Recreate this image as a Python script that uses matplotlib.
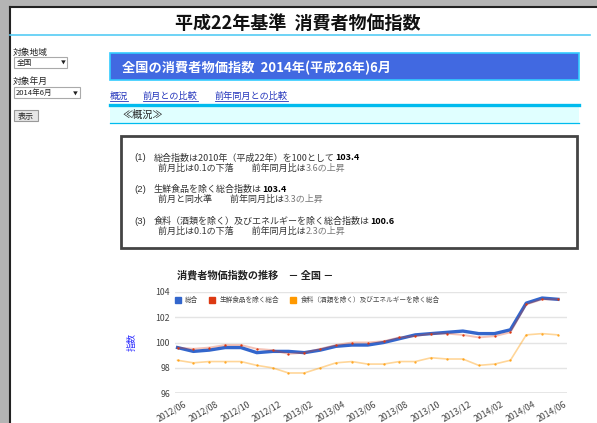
import matplotlib
matplotlib.use('Agg')
import matplotlib.pyplot as plt
import matplotlib.transforms as mtransforms
from matplotlib.patches import Rectangle
from matplotlib.lines import Line2D

plt.rcParams['font.family'] = ['Noto Sans CJK JP', 'DejaVu Sans']

months = ['2012/06', '2012/07', '2012/08', '2012/09', '2012/10', '2012/11', '2012/12',
          '2013/01', '2013/02', '2013/03', '2013/04', '2013/05', '2013/06', '2013/07',
          '2013/08', '2013/09', '2013/10', '2013/11', '2013/12', '2014/01', '2014/02',
          '2014/03', '2014/04', '2014/05', '2014/06']
sougou = [99.6, 99.3, 99.4, 99.6, 99.6, 99.2, 99.3, 99.3, 99.2, 99.4, 99.7, 99.8, 99.8,
          100.0, 100.3, 100.6, 100.7, 100.8, 100.9, 100.7, 100.7, 101.0, 103.1, 103.5, 103.4]
core = [99.6, 99.5, 99.6, 99.8, 99.8, 99.5, 99.4, 99.1, 99.2, 99.5, 99.8, 100.0, 100.0,
        100.1, 100.4, 100.5, 100.7, 100.7, 100.6, 100.4, 100.5, 100.8, 103.0, 103.4, 103.4]
core_core = [98.6, 98.4, 98.5, 98.5, 98.5, 98.2, 98.0, 97.6, 97.6, 98.0, 98.4, 98.5, 98.3,
             98.3, 98.5, 98.5, 98.8, 98.7, 98.7, 98.2, 98.3, 98.6, 100.6, 100.7, 100.6]
series_names = ['総合', '生鮮食品を除く総合', '食料（酒類を除く）及びエネルギーを除く総合']
series_colors = ['#3366cc', '#dc3912', '#ff9900']
y_ticks = [96, 98, 100, 102, 104]

W, H = 597, 423
fig = plt.figure(figsize=(W / 100, H / 100), dpi=100)
fig.patch.set_facecolor('white')

# page drawn in pixel coords
bg = fig.add_axes([0, 0, 1, 1])
bg.set_xlim(0, W)
bg.set_ylim(H, 0)
bg.axis('off')
renderer = fig.canvas.get_renderer()

# window frame
bg.add_patch(Rectangle((0, 0), W, 6.5, color='#b4b4b4', lw=0))
bg.add_patch(Rectangle((0, 0), 9.5, H, color='#b4b4b4', lw=0))
bg.plot([9.5, W], [7, 7], color='#222222', lw=1.5)
bg.plot([10, 10], [7, H], color='#222222', lw=1.5)

bg.text(298, 23.5, '平成22年基準  消費者物価指数', ha='center', va='center',
        fontsize=13, fontweight='bold', color='#111111')
bg.plot([10, 590], [35, 35], color='#55ccf5', lw=1.2)

# sidebar
bg.text(13, 52, '対象地域', fontsize=6.3, va='center', color='#222222')
bg.add_patch(Rectangle((13.5, 57), 53, 11, fc='white', ec='#aaaaaa', lw=0.8))
bg.text(17, 62.5, '全国', fontsize=5.5, va='center', color='#222222')
bg.text(61, 62.5, '▼', fontsize=3.5, va='center', color='#222222')
bg.text(13, 81, '対象年月', fontsize=6.3, va='center', color='#222222')
bg.add_patch(Rectangle((13.5, 87.5), 66, 11, fc='white', ec='#aaaaaa', lw=0.8))
bg.text(16, 93, '2014年6月', fontsize=5.5, va='center', color='#222222')
bg.text(73, 93, '▼', fontsize=3.5, va='center', color='#222222')
bg.add_patch(Rectangle((13.5, 110.5), 24, 11, fc='#e6e6e6', ec='#999999', lw=0.8))
bg.text(25.5, 116, '表示', fontsize=5.8, ha='center', va='center', color='#222222')

# blue header bar
bg.add_patch(Rectangle((110, 53.5), 469, 27, fc='#4169e1', ec='#33ccff', lw=1.2))
bg.text(122, 67.5, '全国の消費者物価指数  2014年(平成26年)6月', fontsize=9.5,
        fontweight='bold', color='white', va='center')

# links
for lx, ltxt in [(110, '概況'), (143, '前月との比較'), (215, '前年同月との比較')]:
    t = bg.text(lx, 96.5, ltxt, fontsize=6.6, color='#2233bb', va='center')
    wdt = t.get_window_extent(renderer).width
    bg.plot([lx, lx + wdt], [101.5, 101.5], color='#2233bb', lw=0.6)

# cyan section bar
bg.add_patch(Rectangle((110, 106), 469, 17, fc='#e0ffff', lw=0))
bg.plot([110, 579], [105.3, 105.3], color='#00bbee', lw=2.4)
bg.plot([110, 579], [123.5, 123.5], color='#00bbee', lw=0.9)
bg.text(122, 115, '≪概況≫', fontsize=7.3, va='center', color='#222222')

# summary box
bg.add_patch(Rectangle((121, 136), 456, 112, fc='white', ec='#444444', lw=2))


def seg_line(x, y, parts):
    for txt, wt, col in parts:
        t = bg.text(x, y, txt, fontsize=6.5, fontweight=wt, color=col, va='center')
        x += t.get_window_extent(renderer).width


dark, light = '#333333', '#777777'
box_lines = [
    ('(1)', 158, [('総合指数は2010年（平成22年）を100として', 'normal', dark),
                  (f'{sougou[-1]:.1f}', 'bold', '#000000')],
     [('前月比は0.1の下落　　前年同月比は', 'normal', dark), ('3.6の上昇', 'normal', light)]),
    ('(2)', 189, [('生鮮食品を除く総合指数は', 'normal', dark),
                  (f'{core[-1]:.1f}', 'bold', '#000000')],
     [('前月と同水準　　前年同月比は', 'normal', dark), ('3.3の上昇', 'normal', light)]),
    ('(3)', 221, [('食料（酒類を除く）及びエネルギーを除く総合指数は', 'normal', dark),
                  (f'{core_core[-1]:.1f}', 'bold', '#000000')],
     [('前月比は0.1の下落　　前年同月比は', 'normal', dark), ('2.3の上昇', 'normal', light)]),
]
for num, yy, first, second in box_lines:
    bg.text(134, yy, num, fontsize=6.8, va='center', color=dark, family='Liberation Sans')
    seg_line(154, yy, first)
    seg_line(158, yy + 10.5, second)

# chart
bg.text(177, 275, '消費者物価指数の推移　－ 全国 －', fontsize=7.3, fontweight='bold',
        va='center', color='#222222')
bg.text(132, 342, '指数', rotation=90, fontsize=6.5, color='#3333ff',
        ha='center', va='center')

ax = fig.add_axes([175 / W, 1 - 393.3 / H, (567 - 175) / W, (393.3 - 291.7) / H])
ax.patch.set_alpha(0)
x = list(range(len(months)))
ax.plot(x, sougou, color=series_colors[0], lw=2.4, solid_joinstyle='round', zorder=3)
ax.plot(x, core, color=series_colors[1], lw=1.4, alpha=0.3, zorder=4)
ax.plot(x, core, ls='none', marker='o', ms=1.7, mew=0, color=series_colors[1], zorder=5)
ax.plot(x, core_core, color=series_colors[2], lw=1.2, alpha=0.4, zorder=4)
ax.plot(x, core_core, ls='none', marker='o', ms=1.7, mew=0, color=series_colors[2],
        alpha=0.8, zorder=5)

ax.set_xlim(-0.16, 24.57)
ax.set_ylim(96, 104)
ax.set_yticks(y_ticks)
ax.yaxis.grid(True, color='#e4e4e4', lw=1)
ax.set_axisbelow(True)
ax.axhline(96, color='#9a9a9a', lw=1, zorder=2)
for s in ax.spines.values():
    s.set_visible(False)
ax.set_xticks(x[::2])
ax.set_xticklabels(months[::2], rotation=30, ha='right', rotation_mode='anchor')
ax.tick_params(length=0, labelsize=6.3, labelcolor='#444444')
ax.tick_params(axis='y', pad=3.6)
ax.tick_params(axis='x', pad=4.5)
shift = mtransforms.ScaledTranslation(6 / 100, 0, fig.dpi_scale_trans)
for lab in ax.get_xticklabels():
    lab.set_transform(lab.get_transform() + shift)

handles = [Line2D([], [], ls='none', marker='s', ms=3.8, color=c) for c in series_colors]
ax.legend(handles, series_names, loc='center left', bbox_to_anchor=(175 / W, 1 - 300 / H),
          bbox_transform=fig.transFigure, ncol=3, frameon=False, fontsize=4.8,
          borderpad=0, borderaxespad=0, handlelength=0.8, handletextpad=0.7,
          columnspacing=1.7, labelcolor='#444444')

fig.savefig('out.png', dpi=100, facecolor='white')
